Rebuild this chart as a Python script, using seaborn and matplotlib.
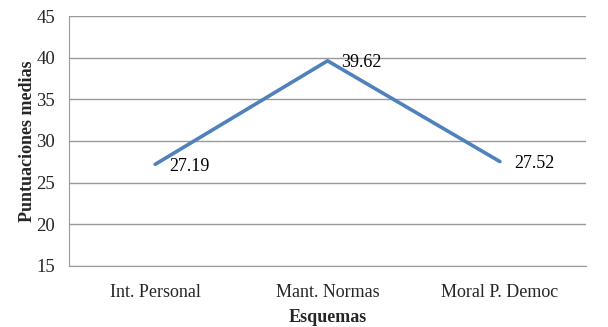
import pandas as pd
import seaborn as sns
from matplotlib import pyplot as plt

# Data
esquemas = ['Int. Personal', 'Mant. Normas', 'Moral P. Democ']
puntuaciones = [27.19, 39.62, 27.52]
data = pd.DataFrame({'Esquemas': esquemas, 'Puntuaciones medias': puntuaciones})

sns.set_style('white')
plt.rcParams['font.family'] = ['Liberation Serif', 'DejaVu Serif']

fig, ax = plt.subplots(figsize=(6.08, 3.27), dpi=100)
fig.subplots_adjust(left=0.1135, right=0.964, top=0.951, bottom=0.187)

sns.lineplot(data=data, x='Esquemas', y='Puntuaciones medias', ax=ax,
             color='#4F81BD', linewidth=2.6, zorder=3)

# labels next to points
for i, v in enumerate(puntuaciones):
    ax.annotate('%.2f' % v, (i, v), xytext=(10, -1.5), textcoords='offset points',
                ha='left', va='center', fontsize=13, color='black')

ax.set_ylim(15, 45)
ax.set_yticks(range(15, 46, 5))
ax.set_xlim(-0.5, 2.5)
ax.set_xticks([-0.5, 0.5, 1.5, 2.5])
ax.set_xticklabels([])
ax.set_xticks([0, 1, 2], minor=True)
ax.set_xticklabels(esquemas, minor=True)
ax.tick_params(axis='x', which='minor', length=0, pad=13, labelsize=13)
ax.tick_params(axis='x', which='major', length=4, color='#999999', direction='out')
ax.tick_params(axis='y', length=4, color='#999999', direction='out', labelsize=13.5, pad=6)
ax.yaxis.grid(True, color='#999999', linewidth=1)

for s in ['top', 'right']:
    ax.spines[s].set_visible(False)
ax.spines['left'].set_color('#999999')
ax.spines['bottom'].set_color('#999999')

ax.set_xlabel('Esquemas', fontweight='bold', fontsize=13, labelpad=6)
ax.set_ylabel('Puntuaciones medias', fontweight='bold', fontsize=13, labelpad=0)

plt.savefig('out.png')
